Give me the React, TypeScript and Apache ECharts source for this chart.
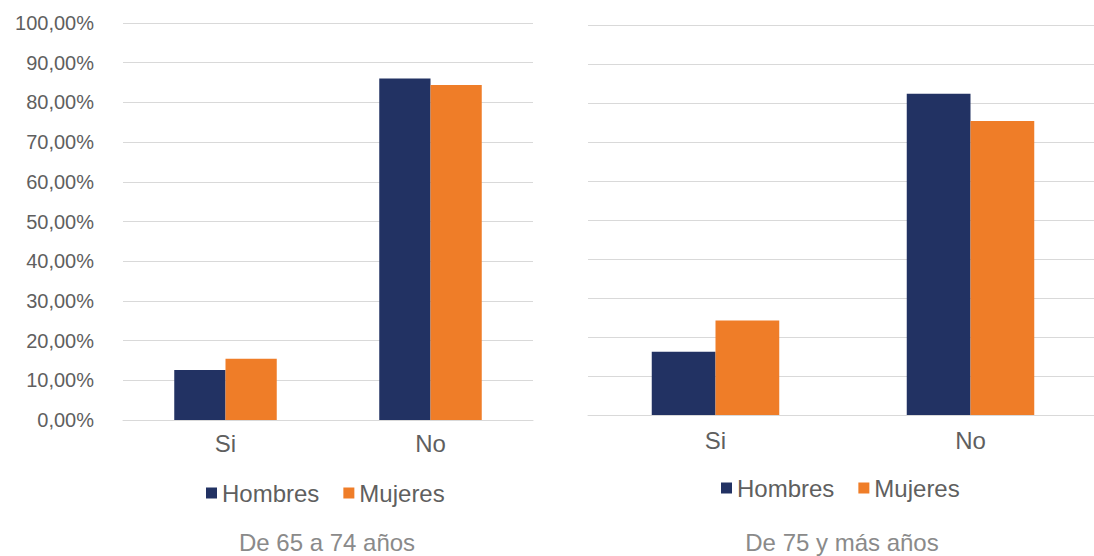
import React, { useEffect, useRef } from "react";
import * as echarts from "echarts";

const categories = ["Si", "No"];
const seriesNames = ["Hombres", "Mujeres"];
const hombres6574 = [12.6, 86.0];
const mujeres6574 = [15.4, 84.4];
const hombres75 = [16.2, 82.4];
const mujeres75 = [24.2, 75.4];
const panelTitles = ["De 65 a 74 años", "De 75 y más años"];

const NAVY = "#223263";
const ORANGE = "#EF7D28";
const FONT = "Liberation Sans, Arial, sans-serif";
const LABEL = "#5f5f5f";
const GRID = "#d9d9d9";

export default function App() {
  const ref = useRef<HTMLDivElement>(null);
  useEffect(() => {
    if (!ref.current) return;
    const chart = echarts.init(ref.current, null, { renderer: "svg" });
    const fmt = (v: number) => v.toFixed(2).replace(".", ",") + "%";
    const yAxisBase = {
      type: "value" as const,
      min: 0,
      max: 100,
      interval: 10,
      axisLine: { show: false },
      axisTick: { show: false },
      splitLine: { lineStyle: { color: GRID, width: 1 } },
    };
    const xAxisBase = {
      type: "category" as const,
      data: categories,
      axisLine: { show: true, lineStyle: { color: GRID, width: 1 } },
      axisTick: { show: false },
      axisLabel: { color: LABEL, fontFamily: FONT, fontSize: 24 },
    };
    const legendBase = {
      icon: "rect",
      itemWidth: 11,
      itemHeight: 11,
      itemGap: 24,
      padding: 0,
      data: seriesNames,
      textStyle: { color: LABEL, fontFamily: FONT, fontSize: 24 },
    };
    const barBase = { type: "bar" as const, barGap: "0%", barCategoryGap: "50%" };
    chart.setOption({
      animation: false,
      backgroundColor: "#ffffff",
      title: [
        {
          text: panelTitles[0],
          left: 327,
          top: 530,
          textAlign: "center",
          padding: 0,
          textStyle: { color: "#8a8a8a", fontFamily: FONT, fontSize: 24, fontWeight: "normal" },
        },
        {
          text: panelTitles[1],
          left: 842,
          top: 530,
          textAlign: "center",
          padding: 0,
          textStyle: { color: "#8a8a8a", fontFamily: FONT, fontSize: 24, fontWeight: "normal" },
        },
      ],
      legend: [
        { ...legendBase, left: 206, top: 481 },
        { ...legendBase, left: 721, top: 476 },
      ],
      grid: [
        { left: 123, width: 410, top: 23, bottom: 136, outerBoundsMode: "none" },
        { left: 588, width: 510, top: 25, bottom: 141, outerBoundsMode: "none" },
      ],
      xAxis: [
        { ...xAxisBase, gridIndex: 0, axisLabel: { ...xAxisBase.axisLabel, margin: 11 } },
        { ...xAxisBase, gridIndex: 1, axisLabel: { ...xAxisBase.axisLabel, margin: 13 } },
      ],
      yAxis: [
        {
          ...yAxisBase,
          gridIndex: 0,
          axisLabel: { color: LABEL, fontFamily: FONT, fontSize: 20, margin: 29, formatter: fmt },
        },
        { ...yAxisBase, gridIndex: 1, axisLabel: { show: false } },
      ],
      series: [
        { ...barBase, name: seriesNames[0], xAxisIndex: 0, yAxisIndex: 0, data: hombres6574, itemStyle: { color: NAVY } },
        { ...barBase, name: seriesNames[1], xAxisIndex: 0, yAxisIndex: 0, data: mujeres6574, itemStyle: { color: ORANGE } },
        { ...barBase, name: seriesNames[0], xAxisIndex: 1, yAxisIndex: 1, data: hombres75, itemStyle: { color: NAVY } },
        { ...barBase, name: seriesNames[1], xAxisIndex: 1, yAxisIndex: 1, data: mujeres75, itemStyle: { color: ORANGE } },
      ],
    });
    return () => chart.dispose();
  }, []);
  return (
    <div
      ref={ref}
      style={{ position: "absolute", left: 0, top: 0, width: 1094, height: 556, background: "#fff" }}
    />
  );
}
